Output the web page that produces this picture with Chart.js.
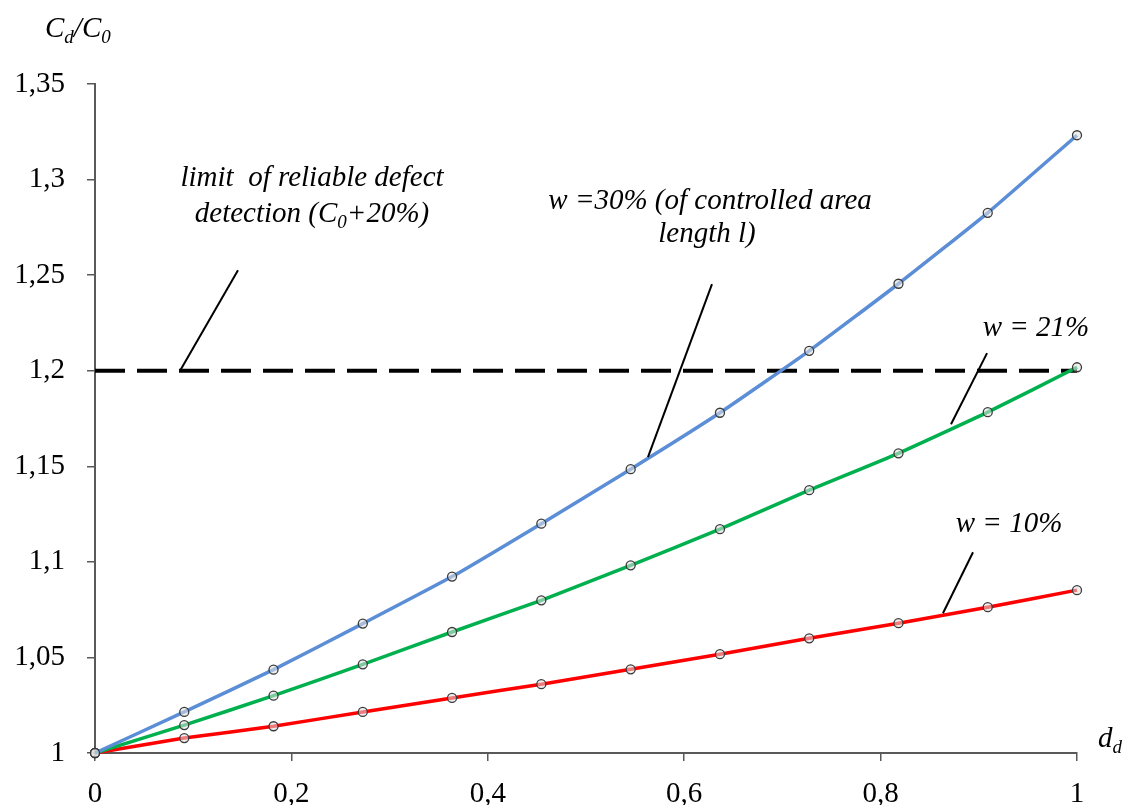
<!DOCTYPE html>
<html>
<head>
<meta charset="utf-8">
<script src="https://cdn.jsdelivr.net/npm/chart.js@4/dist/chart.umd.min.js"></script>
<style>
  html, body { margin: 0; padding: 0; background: #fff; }
  #wrap { width: 1127px; height: 805px; }
</style>
</head>
<body>
<div id="wrap"><canvas id="c" width="1127" height="805"></canvas></div>
<script>
// Relative defect depth d_d (11 equal steps from 0 to 1)
const depth = [0, 0.0909, 0.1818, 0.2727, 0.3636, 0.4545, 0.5455, 0.6364, 0.7273, 0.8182, 0.9091, 1];

// Capacitance ratio Cd/C0 for three defect widths w
const w30 = [1, 1.0215, 1.0436, 1.0677, 1.0923, 1.1200, 1.1485, 1.1780, 1.2104, 1.2455, 1.2826, 1.3232];
const w21 = [1, 1.0146, 1.0300, 1.0464, 1.0633, 1.0799, 1.0982, 1.1171, 1.1375, 1.1568, 1.1783, 1.2018];
const w10 = [1, 1.0078, 1.0140, 1.0215, 1.0288, 1.0360, 1.0438, 1.0517, 1.0600, 1.0679, 1.0763, 1.0852];

// Reliable detection threshold (C0 + 20%)
const limitLevel = 1.2;

// Axis ranges and tick steps
const xTicks = { min: 0, max: 1, step: 0.2 };
const yTicks = { min: 1, max: 1.35, step: 0.05 };

// Leader lines [x1, y1, x2, y2] in data units
const leaders = [
  [0.0866, 1.2000, 0.1456, 1.2526],
  [0.5631, 1.1548, 0.6283, 1.2453],
  [0.8717, 1.1720, 0.9084, 1.2092],
  [0.8635, 1.0731, 0.8941, 1.1050]
];

// Annotation lines: centre position in data units, text runs [text, subscript]
const notes = [
  { x: 0.2210, y: 1.3013, runs: [['limit  of reliable defect', false]] },
  { x: 0.2210, y: 1.2825, runs: [['detection (C', false], ['0', true], ['+20%)', false]] },
  { x: 0.6263, y: 1.2893, runs: [['w =30% (of controlled area', false]] },
  { x: 0.6232, y: 1.2720, runs: [['length l)', false]] },
  { x: 0.9582, y: 1.2228, runs: [['w = 21%', false]] },
  { x: 0.9308, y: 1.1202, runs: [['w = 10%', false]] }
];

const yTitle = [['C', false], ['d', true], ['/C', false], ['0', true]];
const xTitle = [['d', false], ['d', true]];

const SERIF = '"Liberation Serif", "Times New Roman", serif';
const AXIS_GREY = '#595959';

function pts(ys) { return depth.map((d, i) => ({ x: d, y: ys[i] })); }
const comma = v => String(Math.round(v * 100) / 100).replace('.', ',');

function drawRuns(ctx, runs, x, y, size, align) {
  const sub = Math.round(size * 0.66);
  const widths = runs.map(([t, s]) => {
    ctx.font = 'italic ' + (s ? sub : size) + 'px ' + SERIF;
    return ctx.measureText(t).width;
  });
  const total = widths.reduce((a, b) => a + b, 0);
  let cx = align === 'center' ? x - total / 2 : x;
  ctx.textAlign = 'left';
  ctx.textBaseline = 'alphabetic';
  runs.forEach(([t, s], i) => {
    ctx.font = 'italic ' + (s ? sub : size) + 'px ' + SERIF;
    ctx.fillText(t, cx, y + (s ? size * 0.22 : 0));
    cx += widths[i];
  });
}

const annotations = {
  id: 'annotations',
  afterDatasetsDraw(chart) {
    const { ctx, chartArea, scales: { x, y } } = chart;
    ctx.save();
    ctx.strokeStyle = '#000';
    ctx.lineWidth = 2;
    leaders.forEach(l => {
      ctx.beginPath();
      ctx.moveTo(x.getPixelForValue(l[0]), y.getPixelForValue(l[1]));
      ctx.lineTo(x.getPixelForValue(l[2]), y.getPixelForValue(l[3]));
      ctx.stroke();
    });
    ctx.fillStyle = '#000';
    const size = 29;
    notes.forEach(n => {
      drawRuns(ctx, n.runs, x.getPixelForValue(n.x), y.getPixelForValue(n.y) + size * 0.3, size, 'center');
    });
    // axis titles
    drawRuns(ctx, yTitle, chartArea.left - 50, chartArea.top - 47, 29, 'left');
    drawRuns(ctx, xTitle, chartArea.right + 21, chartArea.bottom - 6, 29, 'left');
    ctx.restore();
  }
};

const seriesStyle = (color) => ({
  borderColor: color,
  borderWidth: 3.5,
  showLine: true,
  tension: 0.15,
  pointRadius: 4.5,
  pointHoverRadius: 4.5,
  pointBackgroundColor: 'rgba(225,225,225,0.55)',
  pointBorderColor: '#3a3a3a',
  pointBorderWidth: 1.3,
  clip: false
});

new Chart(document.getElementById('c'), {
  type: 'scatter',
  data: {
    datasets: [
      { label: 'w = 30%', data: pts(w30), ...seriesStyle('#5B8ED6') },
      { label: 'w = 21%', data: pts(w21), ...seriesStyle('#00B04F') },
      { label: 'w = 10%', data: pts(w10), ...seriesStyle('#FF0000') },
      {
        label: 'limit',
        data: [{ x: xTicks.min, y: limitLevel }, { x: xTicks.max, y: limitLevel }],
        showLine: true,
        borderColor: '#000',
        borderWidth: 4,
        borderDash: [30, 12],
        pointRadius: 0,
        clip: false
      }
    ]
  },
  options: {
    responsive: false,
    animation: false,
    devicePixelRatio: 1,
    layout: { padding: { top: 84, right: 50, left: 0, bottom: 0 } },
    plugins: { legend: { display: false }, tooltip: { enabled: false } },
    scales: {
      x: {
        type: 'linear',
        min: xTicks.min,
        max: xTicks.max,
        afterFit: s => { s.height = 52; },
        border: { color: AXIS_GREY, width: 2 },
        grid: { drawOnChartArea: false, drawTicks: true, tickLength: 8, color: AXIS_GREY, lineWidth: 1.5 },
        ticks: {
          stepSize: xTicks.step,
          padding: 16,
          color: '#000',
          font: { family: SERIF, size: 29 },
          maxRotation: 0,
          callback: comma
        }
      },
      y: {
        type: 'linear',
        min: yTicks.min,
        max: yTicks.max,
        afterFit: s => { s.width = 95; },
        border: { color: AXIS_GREY, width: 2 },
        grid: { drawOnChartArea: false, drawTicks: true, tickLength: 8, color: AXIS_GREY, lineWidth: 1.5 },
        ticks: {
          stepSize: yTicks.step,
          padding: 22,
          color: '#000',
          font: { family: SERIF, size: 29 },
          callback: comma
        }
      }
    }
  },
  plugins: [annotations]
});
</script>
</body>
</html>
